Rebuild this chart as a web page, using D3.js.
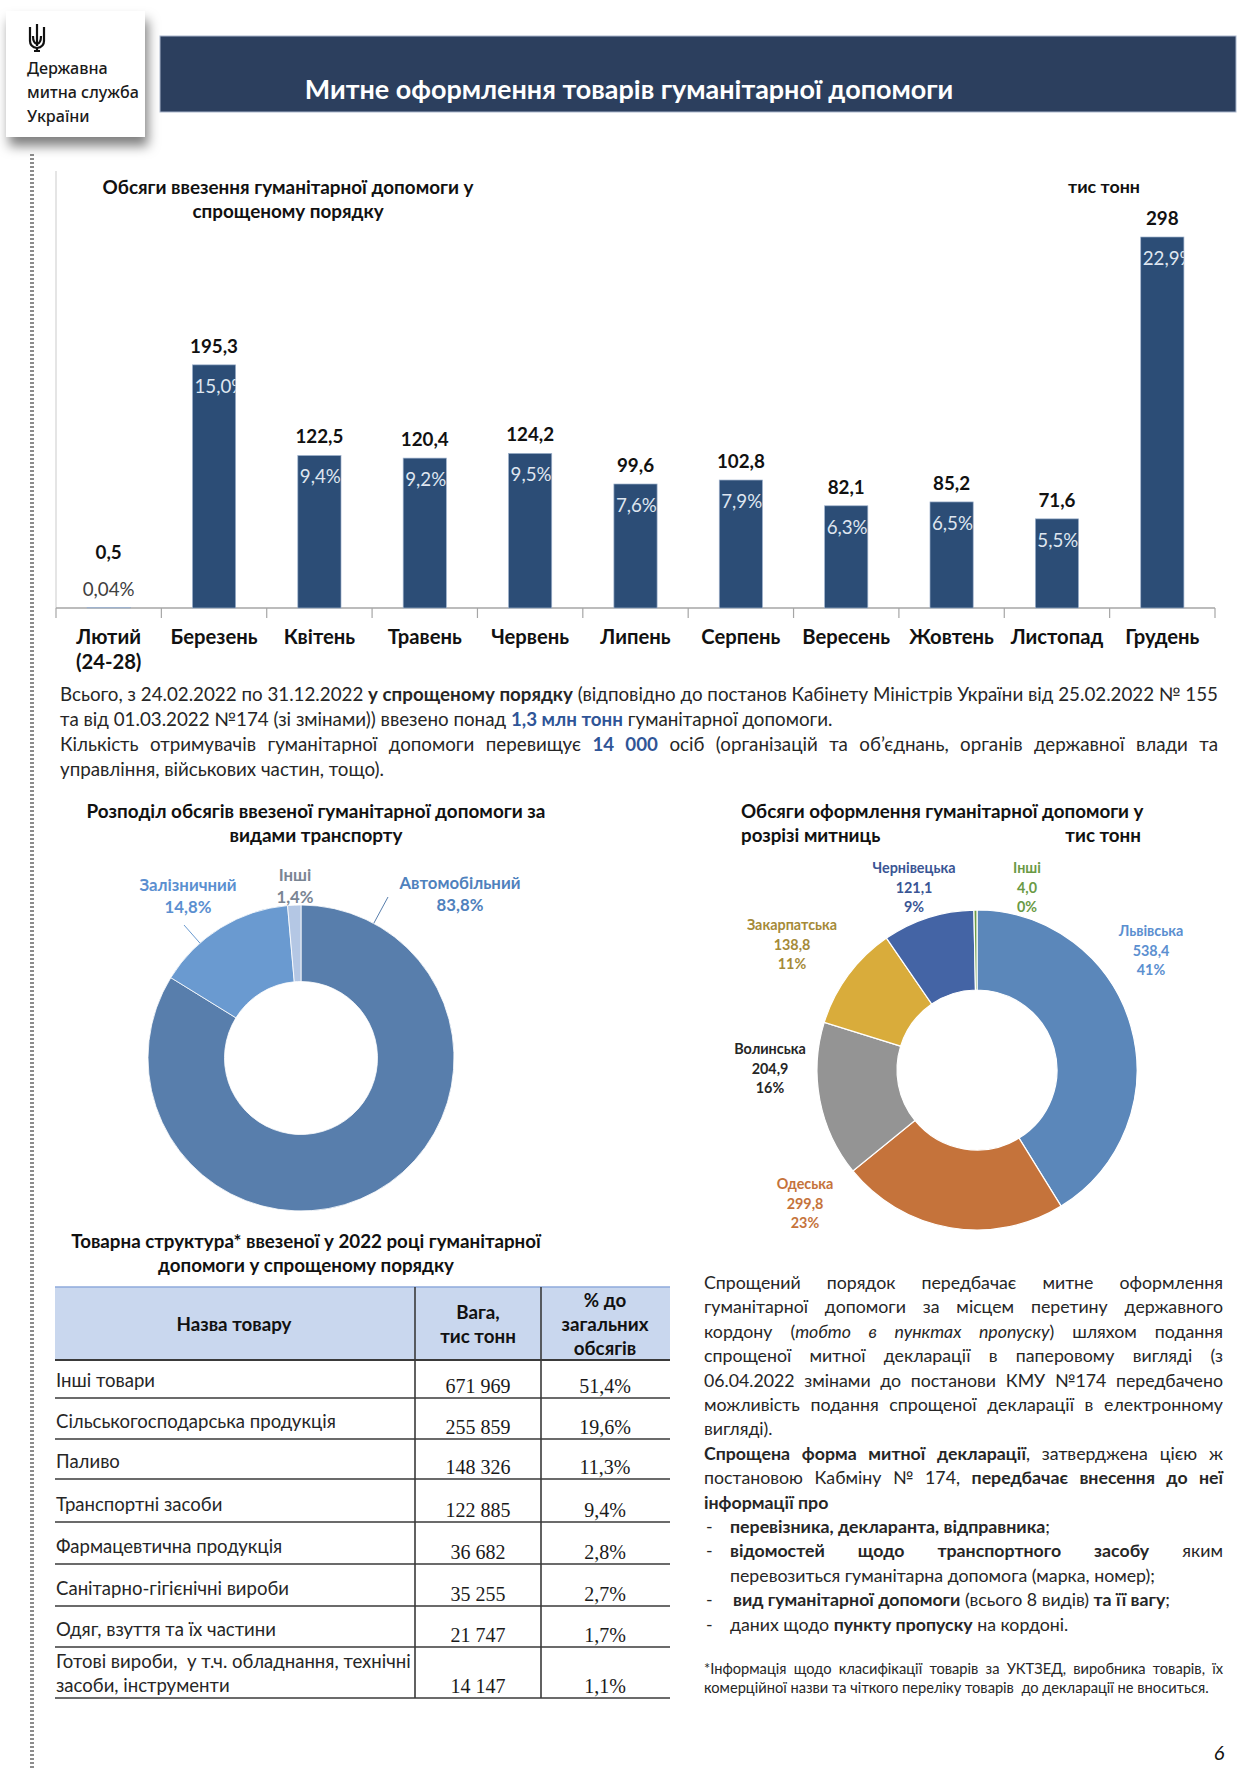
<!DOCTYPE html>
<html><head><meta charset="utf-8">
<script src="https://cdn.jsdelivr.net/npm/d3@7"></script>
<style>
body{margin:0;background:#fff}
svg{display:block}
</style>
</head><body>
<svg id="c" width="1241" height="1789"></svg>
<script>
// ---------------- DATA ----------------
const months = ["Лютий","Березень","Квітень","Травень","Червень","Липень","Серпень","Вересень","Жовтень","Листопад","Грудень"];
const monthSubLabels = ["(24-28)","","","","","","","","","",""];
const monthValues = [0.5,195.3,122.5,120.4,124.2,99.6,102.8,82.1,85.2,71.6,298];
const monthValueLabels = ["0,5","195,3","122,5","120,4","124,2","99,6","102,8","82,1","85,2","71,6","298"];
const monthShareLabels = ["0,04%","15,0%","9,4%","9,2%","9,5%","7,6%","7,9%","6,3%","6,5%","5,5%","22,9%"];

const transportModes = ["Автомобільний","Залізничний","Інші"];
const transportShares = [83.8,14.8,1.4];
const transportShareLabels = ["83,8%","14,8%","1,4%"];

const customsOffices = ["Львівська","Одеська","Волинська","Закарпатська","Чернівецька","Інші"];
const customsValues = [538.4,299.8,204.9,138.8,121.1,4.0];
const customsValueLabels = ["538,4","299,8","204,9","138,8","121,1","4,0"];
const customsShareLabels = ["41%","23%","16%","11%","9%","0%"];

const goodsNames = [["Інші товари"],["Сільськогосподарська продукція"],["Паливо"],["Транспортні засоби"],["Фармацевтична продукція"],["Санітарно-гігієнічні вироби"],["Одяг, взуття та їх частини"],["Готові вироби,  у т.ч. обладнання, технічні","засоби, інструменти"]];
const goodsWeights = ["671 969","255 859","148 326","122 885","36 682","35 255","21 747","14 147"];
const goodsShares = ["51,4%","19,6%","11,3%","9,4%","2,8%","2,7%","1,7%","1,1%"];

// ---------------- HELPERS ----------------
const svg = d3.select("#c");
const TXT = "#262626";
const BASEFONT = "Lato, 'Open Sans', sans-serif";
function parse(s){
  const out=[]; const re=/(\*\*[^*]+\*\*|_[^_]+_|\{\{[^}]+\}\})/g; let last=0,m;
  while((m=re.exec(s))){
    if(m.index>last) out.push({t:s.slice(last,m.index)});
    const tok=m[0];
    if(tok.startsWith('**')) out.push({t:tok.slice(2,-2),b:1});
    else if(tok.startsWith('_')) out.push({t:tok.slice(1,-1),i:1});
    else out.push({t:tok.slice(2,-2),b:1,c:1});
    last=m.index+tok.length;
  }
  if(last<s.length) out.push({t:s.slice(last)});
  return out;
}
function rich(g,x,y,s,size,o={}){
  const t=g.append("text").attr("x",x).attr("y",y).attr("font-size",size)
    .attr("fill",o.fill||TXT).attr("font-weight",o.weight||400)
    .style("font-family",o.family||BASEFONT).style("white-space","pre")
    .attr("font-style",o.style||null)
    .attr("text-anchor",o.anchor||"start");
  parse(s).forEach(seg=>{
    const ts=t.append("tspan").text(seg.t);
    if(seg.b) ts.attr("font-weight",700);
    if(seg.i) ts.attr("font-style","italic");
    if(seg.c) ts.attr("fill","#2f5597");
  });
  if(o.justify){
    const w=t.node().getComputedTextLength();
    const n=(t.text().match(/ /g)||[]).length;
    if(n>0) t.attr("word-spacing",(o.justify-w)/n);
  }
  return t;
}
function fit(s,target,o={}){
  const t=rich(svg,0,-100,s,20,o);
  const w=t.node().getComputedTextLength(); t.remove();
  return 20*target/w;
}

// ---------------- PAGE DECOR ----------------
const defs=svg.append("defs");
const sh=defs.append("filter").attr("id","shadow").attr("x","-30%").attr("y","-30%").attr("width","170%").attr("height","180%");
sh.append("feDropShadow").attr("dx",3).attr("dy",9).attr("stdDeviation",6).attr("flood-color","#000").attr("flood-opacity",0.5);

// left dotted rule
svg.append("line").attr("x1",32).attr("x2",32).attr("y1",154).attr("y2",1768)
  .attr("stroke","#8c8c8c").attr("stroke-width",4).attr("stroke-dasharray","2,2");

// header band
svg.append("rect").attr("x",160).attr("y",36).attr("width",1076).attr("height",76)
  .attr("fill","#2c3f5e").attr("stroke","#a9b6cc").attr("stroke-width",1);
const hs=fit("Митне оформлення товарів гуманітарної допомоги",649,{weight:700});
rich(svg,629,99,"Митне оформлення товарів гуманітарної допомоги",hs,{weight:700,fill:"#ffffff",anchor:"middle"});

// logo
svg.append("rect").attr("x",6).attr("y",11).attr("width",139).attr("height",126).attr("fill","#fff").attr("filter","url(#shadow)");
const tr=svg.append("g").attr("transform","translate(28,24)").attr("fill","none").attr("stroke","#111").attr("stroke-width",2.2);
tr.append("path").attr("d","M9,0 L9,22");
tr.append("path").attr("d","M2,3 L2,17 Q2,23 9,24 Q16,23 16,17 L16,3");
tr.append("path").attr("d","M5,12 Q5,19 9,20 Q13,19 13,12");
tr.append("path").attr("d","M9,24 L9,28 M6,27 L12,27");
const LOGOF="'Noto Sans', sans-serif";
const ls=fit("митна служба",112,{family:LOGOF,weight:500});
["Державна","митна служба","України"].forEach((s,i)=>rich(svg,27,74+i*24,s,ls,{family:LOGOF,weight:500,fill:"#1a1a1a"}));

// page number
rich(svg,1219,1760,"6",20,{style:"italic",anchor:"middle",fill:"#111"});

// ---------------- BAR CHART ----------------
const bx0=56,bx1=1215,by0=608;
const x=d3.scaleBand().domain(months).range([bx0,bx1]).paddingInner(0.59).paddingOuter(0.295);
const y=d3.scaleLinear().domain([0,298]).range([by0,237]);
const bc=svg.append("g");
const bts=fit("Обсяги ввезення гуманітарної допомоги у",371,{weight:700});
rich(bc,288,194,"Обсяги ввезення гуманітарної допомоги у",bts,{weight:700,anchor:"middle",fill:"#111"});
rich(bc,288,218,"спрощеному порядку",bts,{weight:700,anchor:"middle",fill:"#111"});
rich(bc,1104,193,"тис тонн",fit("тис тонн",72,{weight:700}),{weight:700,anchor:"middle",fill:"#111"});

bc.append("line").attr("x1",bx0).attr("x2",bx0).attr("y1",171).attr("y2",by0).attr("stroke","#d4d4d4").attr("stroke-width",1.2);
const step=x.step();
d3.range(months.length+1).forEach(i=>{
  const xx=bx0+i*step;
  bc.append("line").attr("x1",xx).attr("x2",xx).attr("y1",by0).attr("y2",by0+10).attr("stroke","#a6a6a6").attr("stroke-width",1.2);
});
bc.append("line").attr("x1",bx0).attr("x2",bx1).attr("y1",by0).attr("y2",by0).attr("stroke","#a6a6a6").attr("stroke-width",1.4);

const vls=fit("195,3",48,{weight:700});
const pls=fit("9,2%",41);
const xls=fit("Березень",87,{weight:700});
months.forEach((m,i)=>{
  const v=monthValues[i], bx=x(m), bw=x.bandwidth(), top=y(v), h=by0-top, cx=bx+bw/2;
  bc.append("rect").attr("x",bx).attr("y",top).attr("width",bw).attr("height",h)
    .attr("fill","#2c4d76").attr("stroke","#9fb2cc").attr("stroke-width",0.7);
  defs.append("clipPath").attr("id","cb"+i).append("rect").attr("x",bx).attr("y",top).attr("width",bw).attr("height",h);
  if(h>30){
    rich(bc,cx,top-12,monthValueLabels[i],vls,{weight:700,anchor:"middle",fill:"#111"});
    rich(bc,bx+2,top+28,monthShareLabels[i],pls,{fill:"#dfe6f0"}).attr("clip-path","url(#cb"+i+")");
  } else {
    rich(bc,cx,top-11,monthShareLabels[i],pls,{anchor:"middle",fill:"#404040"});
    rich(bc,cx,top-48,monthValueLabels[i],vls,{weight:700,anchor:"middle",fill:"#111"});
  }
  rich(bc,cx,644,m,xls,{weight:700,anchor:"middle",fill:"#111"});
  if(monthSubLabels[i]) rich(bc,cx,669,monthSubLabels[i],xls,{weight:700,anchor:"middle",fill:"#111"});
});

// ---------------- PARAGRAPH ----------------
const para=[
 ["Всього, з 24.02.2022 по 31.12.2022 **у спрощеному порядку** (відповідно до постанов Кабінету Міністрів України від 25.02.2022 № 155",true],
 ["та від 01.03.2022 №174 (зі змінами)) ввезено понад {{1,3 млн тонн}} гуманітарної допомоги.",false],
 ["Кількість отримувачів гуманітарної допомоги перевищує {{14 000}} осіб (організацій та об’єднань, органів державної влади та",true],
 ["управління, військових частин, тощо).",false]
];
const ps=fit(para[1][0],773);
para.forEach((p,i)=>rich(svg,60,701+i*25,p[0],ps,{justify:p[1]?1158:0}));

// ---------------- DONUT 1 ----------------
const d1=svg.append("g");
const d1s=fit("Розподіл обсягів ввезеної гуманітарної допомоги за",459,{weight:700});
rich(d1,316,818,"Розподіл обсягів ввезеної гуманітарної допомоги за",d1s,{weight:700,anchor:"middle",fill:"#111"});
rich(d1,316,842,"видами транспорту",d1s,{weight:700,anchor:"middle",fill:"#111"});
const c1=[301,1058], R1=153;
const arcs1=d3.pie().sort(null).value(d=>d)(transportShares);
const arc1=d3.arc().innerRadius(R1*0.5).outerRadius(R1);
const col1=["#587eac","#6a9ad0","#b4c7e4"];
const g1=d1.append("g").attr("transform",`translate(${c1})`);
g1.selectAll("path").data(arcs1).join("path").attr("d",arc1).attr("fill",(d,i)=>col1[i]).attr("stroke","#fff").attr("stroke-width",0.8);
const lab1=[[159,-169],[-113,-167],[-6,-177]];
const lcol1=["#4f81bd","#5b8fd0","#7a8593"];
const leader1=[[87,-161],[-117,-133],null];
const l1s=fit("Автомобільний",121,{weight:700});
transportModes.forEach((t,i)=>{
  rich(g1,lab1[i][0],lab1[i][1],t,l1s,{weight:700,anchor:"middle",fill:lcol1[i]});
  rich(g1,lab1[i][0],lab1[i][1]+22,transportShareLabels[i],l1s,{weight:700,anchor:"middle",fill:lcol1[i]});
  if(leader1[i]){
    const [sx,sy]=leader1[i], L=Math.hypot(sx,sy);
    g1.append("line").attr("x1",sx).attr("y1",sy).attr("x2",sx/L*R1).attr("y2",sy/L*R1).attr("stroke",col1[i==0?0:1]).attr("stroke-width",1);
  }
});

// ---------------- DONUT 2 ----------------
const d2=svg.append("g");
const d2s=fit("Обсяги оформлення гуманітарної допомоги у",403,{weight:700});
rich(d2,741,818,"Обсяги оформлення гуманітарної допомоги у",d2s,{weight:700,fill:"#111"});
rich(d2,741,842,"розрізі митниць",d2s,{weight:700,fill:"#111"});
rich(d2,1141,842,"тис тонн",d2s,{weight:700,fill:"#111",anchor:"end"});
const c2=[977,1070], R2=160;
const arcs2=d3.pie().sort(null).value(d=>d)(customsValues);
const arc2=d3.arc().innerRadius(R2*0.5).outerRadius(R2);
const col2=["#5b87ba","#c5733b","#949494","#d9ac3b","#4464a5","#6d9b45"];
const lcol2=["#5b8fd0","#c5733b","#262626","#a58a38","#3a5594","#6a9a45"];
const g2=d2.append("g").attr("transform",`translate(${c2})`);
g2.selectAll("path").data(arcs2).join("path").attr("d",arc2).attr("fill",(d,i)=>col2[i]).attr("stroke","#fff").attr("stroke-width",1.2);
const lab2=[[174,-134],[-172,119],[-207,-16],[-185,-140],[-63,-197],[50,-197]];
const l2s=fit("Чернівецька",83,{weight:700});
customsOffices.forEach((n,i)=>{
  [n,customsValueLabels[i],customsShareLabels[i]].forEach((s,k)=>
    rich(g2,lab2[i][0],lab2[i][1]+k*19.5,s,l2s,{weight:700,anchor:"middle",fill:lcol2[i]}));
});

// ---------------- TABLE ----------------
const tb=svg.append("g");
const tts=fit("Товарна структура* ввезеної у 2022 році гуманітарної",470,{weight:700});
rich(tb,306,1248,"Товарна структура* ввезеної у 2022 році гуманітарної",tts,{weight:700,anchor:"middle",fill:"#111"});
rich(tb,306,1272,"допомоги у спрощеному порядку",tts,{weight:700,anchor:"middle",fill:"#111"});
const tx0=55,tx1=670,tc1=415,tc2=541,thTop=1287,thBot=1360;
const rowH=[38,41,40,43,42,42,41,51];
tb.append("rect").attr("x",tx0).attr("y",thTop).attr("width",tx1-tx0).attr("height",thBot-thTop).attr("fill","#c9d7ee");
tb.append("line").attr("x1",tx0).attr("x2",tx1).attr("y1",thTop).attr("y2",thTop).attr("stroke","#8eaadb").attr("stroke-width",1.5);
const ths=fit("Назва товару",115,{weight:700});
rich(tb,234,1331,"Назва товару",ths,{weight:700,anchor:"middle",fill:"#111"});
["Вага,","тис тонн"].forEach((s,k)=>rich(tb,478,1319+k*24,s,ths,{weight:700,anchor:"middle",fill:"#111"}));
["% до","загальних","обсягів"].forEach((s,k)=>rich(tb,605,1307+k*24,s,ths,{weight:700,anchor:"middle",fill:"#111"}));
const SERIF="'Liberation Serif', 'Times New Roman', serif";
const tns=fit("Сільськогосподарська продукція",280);
const tnum=fit("671 969",65,{family:SERIF});
let ry=thBot;
goodsNames.forEach((nm,i)=>{
  const bot=ry+rowH[i];
  if(nm.length===1) rich(tb,56,bot-11,nm[0],tns);
  else nm.forEach((s,k)=>rich(tb,56,bot-6-(nm.length-1-k)*24,s,tns));
  rich(tb,478,bot-5,goodsWeights[i],tnum,{family:SERIF,anchor:"middle",fill:"#1a1a1a"});
  rich(tb,605,bot-5,goodsShares[i],tnum,{family:SERIF,anchor:"middle",fill:"#1a1a1a"});
  tb.append("line").attr("x1",tx0).attr("x2",tx1).attr("y1",bot).attr("y2",bot).attr("stroke","#3a3a3a").attr("stroke-width",1.6);
  ry=bot;
});
tb.append("line").attr("x1",tx0).attr("x2",tx1).attr("y1",thBot).attr("y2",thBot).attr("stroke","#3a3a3a").attr("stroke-width",2);
[tc1,tc2].forEach(cx=>tb.append("line").attr("x1",cx).attr("x2",cx).attr("y1",thTop).attr("y2",ry).attr("stroke","#3a3a3a").attr("stroke-width",1.6));

// ---------------- RIGHT TEXT ----------------
const rt=[
 [704,"Спрощений порядок передбачає митне оформлення",1223],
 [704,"гуманітарної допомоги за місцем перетину державного",1223],
 [704,"кордону (_тобто в пунктах пропуску_) шляхом подання",1223],
 [704,"спрощеної митної декларації в паперовому вигляді (з",1223],
 [704,"06.04.2022 змінами до постанови КМУ №174 передбачено",1223],
 [704,"можливість подання спрощеної декларації в електронному",1223],
 [704,"вигляді).",0],
 [704,"**Спрощена форма митної декларації**, затверджена цією ж",1223],
 [704,"постановою Кабміну № 174, **передбачає внесення до неї**",1223],
 [704,"**інформації про**",0],
 [730,"**перевізника, декларанта, відправника**;",0,1],
 [730,"**відомостей щодо транспортного засобу** яким",1223,1],
 [730,"перевозиться гуманітарна допомога (марка, номер);",0],
 [733,"**вид гуманітарної допомоги** (всього 8 видів) **та її вагу**;",0,1],
 [730,"даних щодо **пункту пропуску** на кордоні.",0,1]
];
const rts=fit("перевозиться гуманітарна допомога (марка, номер);",425);
rt.forEach((r,i)=>{
  const yy=1289+i*24.4;
  rich(svg,r[0],yy,r[1],rts,{justify:r[2]?r[2]-r[0]:0});
  if(r[3]) rich(svg,706,yy,"-",rts);
});
const fns=fit("комерційної назви та чіткого переліку товарів  до декларації не вноситься.",505);
rich(svg,704,1674,"*Інформація щодо класифікації товарів за УКТЗЕД, виробника товарів, їх",fns,{justify:519});
rich(svg,704,1693,"комерційної назви та чіткого переліку товарів  до декларації не вноситься.",fns);
</script>
</body></html>
